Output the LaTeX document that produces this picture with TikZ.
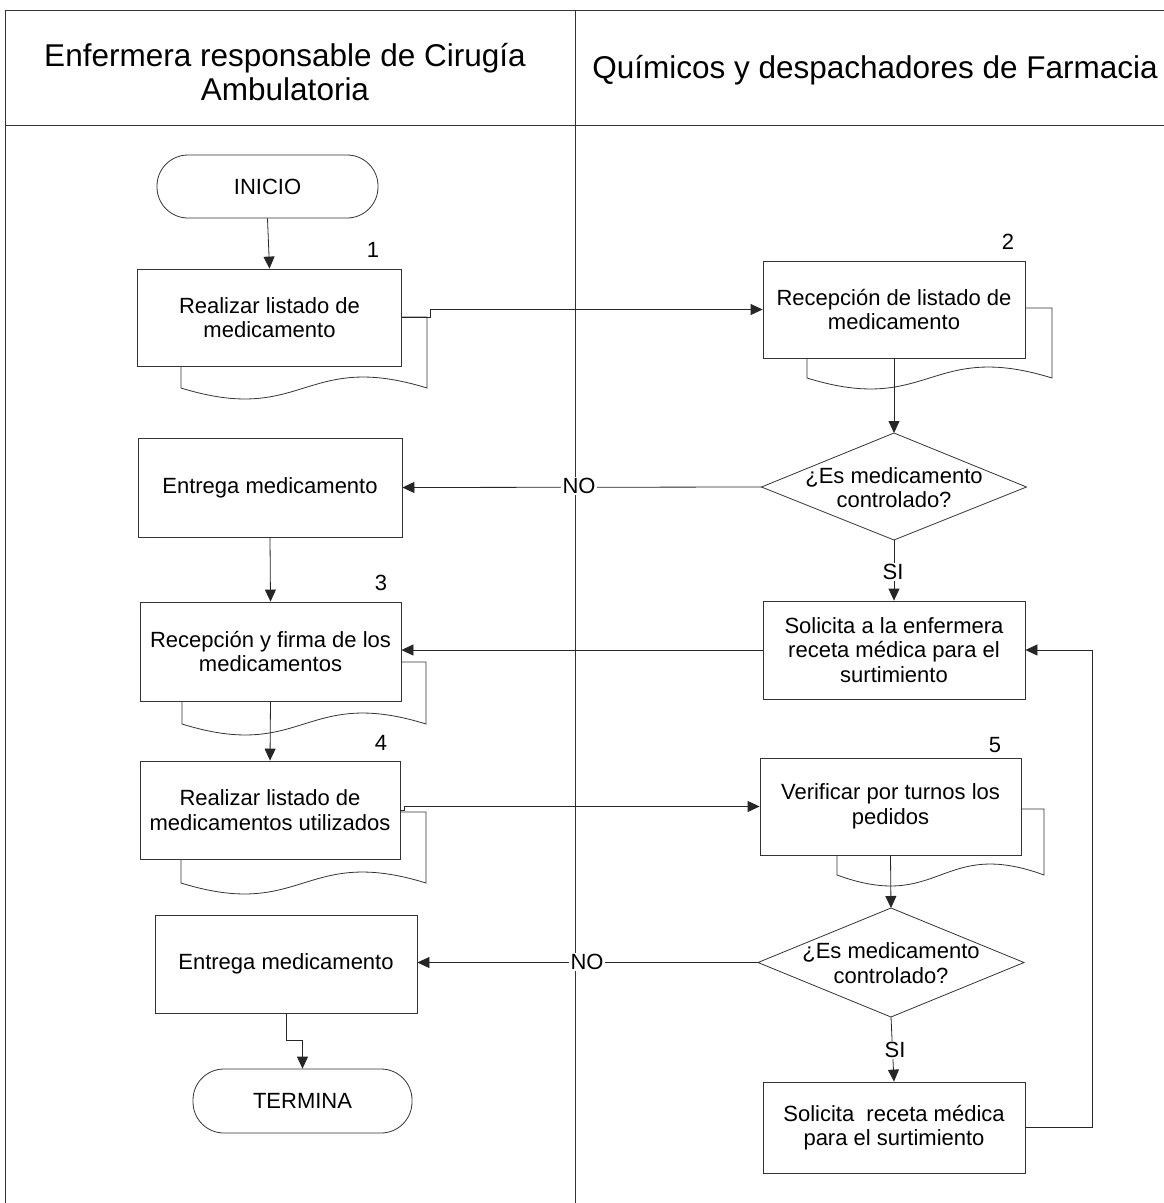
\documentclass[tikz,border=0pt]{standalone}
\usepackage{fontspec}
\setmainfont{Liberation Sans}
\usetikzlibrary{arrows.meta,calc}
\newcommand\boxfont{\fontsize{22}{24.5}\selectfont}
\newcommand\headfont{\fontsize{31.5}{34}\selectfont}
\newcommand\docback[4]{%
  \pgfmathsetmacro\mxdoc{(#1+#2)/2}%
  \path[docb] (#1,#3) -- (#2,#3) -- (#2,#4)
    .. controls (\mxdoc,#4-38) and (\mxdoc,#4+38) .. (#1,#4) -- cycle;}
\begin{document}
\begin{tikzpicture}[x=1pt,y=-1pt,
  lane/.style={draw=black!80, line width=0.9pt},
  proc/.style={rectangle, draw=black!80, line width=0.8pt, fill=white, inner sep=0pt, align=center, font=\boxfont},
  termbox/.style={proc, rounded corners=31pt},
  arr/.style={draw=black!85, line width=0.8pt, -{Triangle[length=12pt,width=11pt]}},
  conn/.style={draw=black!85, line width=0.8pt},
  lbl/.style={fill=white, inner sep=1.5pt, font=\boxfont},
  num/.style={font=\boxfont, inner sep=0pt},
  docb/.style={draw=black!80, line width=0.8pt, fill=white},
  diam/.style={draw=black!80, line width=0.8pt, fill=white}]
\useasboundingbox (0,0) rectangle (1164,1203);
\fill[white] (0,0) rectangle (1164,1203);

% swimlane frame
\draw[lane] (5,1203) -- (5,10) -- (1164,10);
\draw[lane] (575,10) -- (575,1203);
\draw[lane] (5,125) -- (1164,125);
\node[font=\headfont, align=center] (h1) at (285,72) {Enfermera responsable de Cirugía\\Ambulatoria};
\node[font=\headfont] (h2) at (875,70) {Químicos y despachadores de Farmacia};

% document backs
\docback{181}{427}{317}{388}
\docback{807}{1052}{308}{378}
\docback{182}{426}{662}{724}
\docback{181}{426}{812}{883}
\docback{837}{1044}{809}{875}

% nodes
\node[termbox, minimum width=221pt, minimum height=63pt] (ini) at (267.5,186.5) {INICIO};
\node[proc, minimum width=264pt, minimum height=97pt] (b1) at (269.5,317.5) {Realizar listado de\\medicamento};
\node[proc, minimum width=262pt, minimum height=97pt] (b2) at (894,309.5) {Recepción de listado de\\medicamento};
\node[proc, minimum width=264pt, minimum height=99pt] (e1) at (270,487.5) {Entrega medicamento};
\node[proc, minimum width=261pt, minimum height=99pt] (b3) at (270.5,651.5) {Recepción y firma de los\\medicamentos};
\node[proc, minimum width=262pt, minimum height=98pt] (s1) at (894,650) {Solicita a la enfermera\\receta médica para el\\surtimiento};
\node[proc, minimum width=260pt, minimum height=98pt] (b4) at (270,810) {Realizar listado de\\medicamentos utilizados};
\node[proc, minimum width=261pt, minimum height=97pt] (b5) at (890.5,806.5) {Verificar por turnos los\\pedidos};
\node[proc, minimum width=262pt, minimum height=98pt] (e2) at (286,964) {Entrega medicamento};
\node[termbox, minimum width=219pt, minimum height=64pt] (term) at (302.5,1101) {TERMINA};
\node[proc, minimum width=262pt, minimum height=91pt] (s2) at (894,1127.5) {Solicita\ \ receta médica\\para el surtimiento};

% decisions
\coordinate (d1n) at (894,433);
\coordinate (d1s) at (894,540);
\coordinate (d1w) at (761.5,487);
\coordinate (d1e) at (1026.5,487);
\draw[diam] (d1n) -- (d1e) -- (d1s) -- (d1w) -- cycle;
\node[font=\boxfont, align=center] (d1) at (894,487.5) {¿Es medicamento\\controlado?};
\coordinate (d2n) at (891,908);
\coordinate (d2s) at (891,1017);
\coordinate (d2w) at (758,962.5);
\coordinate (d2e) at (1024,962.5);
\draw[diam] (d2n) -- (d2e) -- (d2s) -- (d2w) -- cycle;
\node[font=\boxfont, align=center] (d2) at (891,963) {¿Es medicamento\\controlado?};

% numbers
\node[num] (n1) at (373,250) {1};
\node[num] (n2) at (1008,242) {2};
\node[num] (n3) at (381,583) {3};
\node[num] (n4) at (381,743) {4};
\node[num] (n5) at (995,745) {5};

% connectors
\draw[arr] (ini.south) -- (b1.north);
\draw[arr] (b1.east) -- ++(28,0) -- ++(0,-8) -- (b2.west);
\draw[arr] (b2.south) -- (d1n);
\draw[arr] (d1w) -- (e1.east);
\draw[arr] (d1s) -- (s1.north);
\draw[arr] (e1.south) -- (b3.north);
\draw[arr] (s1.west) -- (s1.west -| b3.east);
\draw[arr] (b3.south) -- (b4.north);
\draw[arr] (b4.east) -- ++(4,0) |- (b5.west);
\draw[arr] (b5.south) -- (d2n);
\draw[arr] (d2w) -- (d2w -| e2.east);
\draw[arr] (d2s) -- (s2.north);
\draw[arr] (e2.south) -- ++(0,27) -| (term.north);
\draw[arr] (s2.east) -- ++(67,0) |- (s1.east);

% labels
\node[lbl] (no1) at (579,486) {NO};
\node[lbl] (no2) at (587,962) {NO};
\node[lbl] (si1) at (893,572) {SI};
\node[lbl] (si2) at (895,1050) {SI};
\end{tikzpicture}
\end{document}
